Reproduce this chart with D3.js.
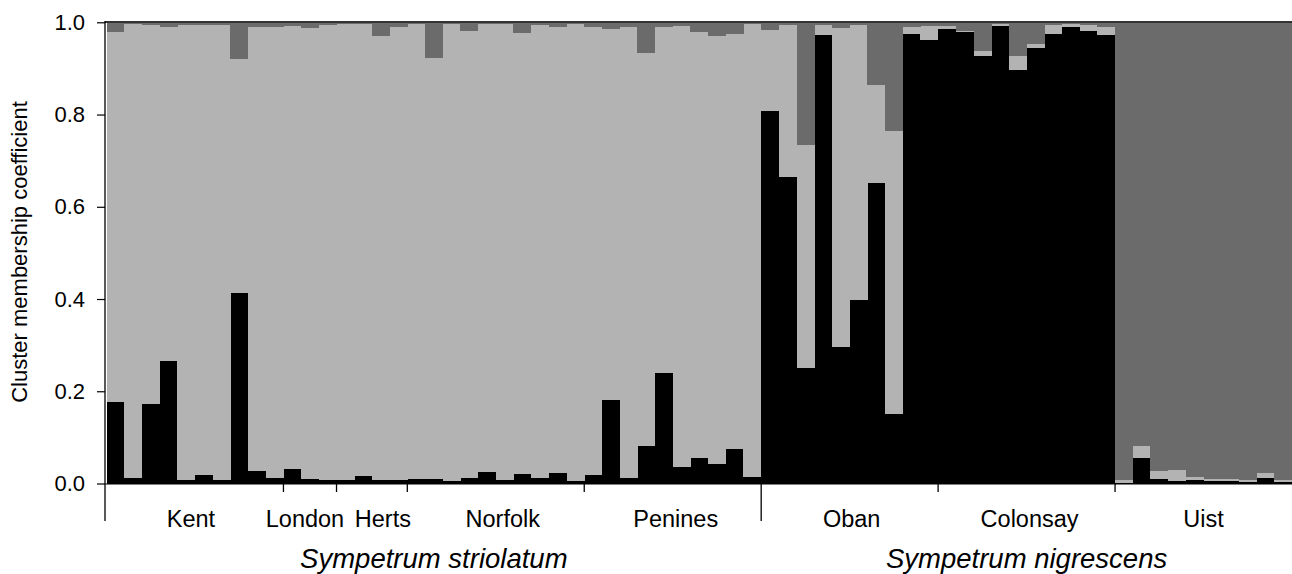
<!DOCTYPE html>
<html><head><meta charset="utf-8">
<script src="https://cdn.jsdelivr.net/npm/d3@7"></script>
<style>
body{margin:0;background:#fff;}
text{font-family:"Liberation Sans",Arial,sans-serif;fill:#000;}
</style></head>
<body><svg id="chart" width="1292" height="574"></svg>
<script>
// Cluster membership per individual (black = cluster 1, light grey = cluster 2, dark grey = cluster 3)
const cluster1 = [0.177,0.013,0.173,0.266,0.008,0.018,0.008,0.413,0.028,0.011,
  0.031,0.010,0.007,0.008,0.016,0.008,0.007,0.009,0.010,0.006,
  0.013,0.024,0.008,0.020,0.012,0.022,0.005,0.018,0.182,0.012,
  0.082,0.240,0.035,0.055,0.042,0.074,0.015,
  0.808,0.664,0.251,0.972,0.297,0.398,0.652,0.151,0.975,0.961,
  0.985,0.978,0.928,0.992,0.897,0.944,0.975,0.989,0.982,0.972,
  0.002,0.056,0.010,0.006,0.008,0.005,0.006,0.003,0.013,0.004];
const cluster2 = [0.801,0.983,0.822,0.723,0.987,0.977,0.987,0.507,0.962,0.979,
  0.961,0.978,0.988,0.988,0.981,0.962,0.983,0.987,0.912,0.990,
  0.969,0.972,0.988,0.956,0.983,0.967,0.991,0.972,0.803,0.978,
  0.851,0.750,0.958,0.923,0.928,0.901,0.981,
  0.175,0.331,0.483,0.023,0.690,0.597,0.211,0.613,0.014,0.031,
  0.006,0.004,0.009,0.004,0.029,0.009,0.019,0.007,0.013,0.017,
  0.005,0.025,0.017,0.024,0.007,0.004,0.004,0.004,0.009,0.004];
const cluster3 = [0.022,0.004,0.005,0.011,0.005,0.005,0.005,0.080,0.010,0.010,
  0.008,0.012,0.005,0.004,0.003,0.030,0.010,0.004,0.078,0.004,
  0.018,0.004,0.004,0.024,0.005,0.011,0.004,0.010,0.015,0.010,
  0.067,0.010,0.007,0.022,0.030,0.025,0.004,
  0.017,0.005,0.266,0.005,0.013,0.005,0.137,0.236,0.011,0.008,
  0.009,0.018,0.063,0.004,0.074,0.047,0.006,0.004,0.005,0.011,
  0.993,0.919,0.973,0.970,0.985,0.991,0.990,0.993,0.978,0.992];
const populations = ["Kent","London","Herts","Norfolk","Penines","Oban","Colonsay","Uist"];
const popSizes = [10,3,4,10,10,10,10,10];
const species = ["Sympetrum striolatum","Sympetrum nigrescens"];
const speciesSizes = [37,30];
const yTicks = [0,0.2,0.4,0.6,0.8,1.0];
const clusterColors = ["#000000","#b3b3b3","#6b6b6b"];

(function draw() {
const svg = d3.select("#chart");
const n = cluster1.length;
const pLeft = 106.5, pRight = 1292, pTop = 22.3, pBottom = 483.5;
const labelNudge = [-4, -5, 11, 7, 3, 2, 3, 0];
const x = d3.scaleBand().domain(d3.range(n)).range([pLeft, pRight]).padding(0);
const y = d3.scaleLinear().domain([0,1]).range([pBottom, pTop]);

const rows = d3.range(n).map(i => ({i, c1: cluster1[i], c2: cluster2[i], c3: cluster3[i]}));
const layers = d3.stack().keys(["c1","c2","c3"])(rows);

svg.append("g").selectAll("g").data(layers).join("g")
  .attr("fill", (d,k) => clusterColors[k])
  .selectAll("rect").data(d => d).join("rect")
  .attr("x", d => x(d.data.i))
  .attr("width", x.bandwidth() + 0.3)
  .attr("y", d => y(Math.min(1, d[1])))
  .attr("height", d => Math.max(0, y(d[0]) - y(Math.min(1, d[1]))))
  .attr("shape-rendering", "crispEdges");

// top frame
svg.append("line").attr("x1", 105).attr("x2", pRight).attr("y1", 22).attr("y2", 22)
  .attr("stroke", "#333").attr("stroke-width", 2);

// y axis
const yAxis = d3.axisLeft(y).tickValues(yTicks).tickFormat(d3.format(".1f")).tickSize(8).tickPadding(12);
const gy = svg.append("g").attr("transform", "translate(105,0)").call(yAxis);
gy.select(".domain").remove();
gy.selectAll(".tick line").attr("stroke", "#000").attr("stroke-width", 1.2);
gy.selectAll(".tick text").style("font-size", "22px").style("font-family", "Liberation Sans, Arial, sans-serif").attr("fill", "#000");
svg.append("line").attr("x1", 105).attr("x2", 105).attr("y1", 21).attr("y2", 521)
  .attr("stroke", "#000").attr("stroke-width", 1.3);

// x baseline
svg.append("line").attr("x1", 105).attr("x2", pRight).attr("y1", pBottom + 0.5).attr("y2", pBottom + 0.5)
  .attr("stroke", "#000").attr("stroke-width", 1.2);

// population boundaries and labels
let acc = 0;
const popBounds = popSizes.map(s => { const a = acc; acc += s; return [a, acc]; });
const xEdge = i => i < n ? x(i) : pRight;
const speciesEnds = new Set(); { let s = 0; speciesSizes.forEach(v => { s += v; speciesEnds.add(s); }); }
popBounds.forEach(([a,b], k) => {
  if (b < n) {
    const long = speciesEnds.has(b);
    svg.append("line").attr("x1", xEdge(b)).attr("x2", xEdge(b))
      .attr("y1", pBottom).attr("y2", long ? 521 : 492)
      .attr("stroke", "#000").attr("stroke-width", 1.3);
  }
  svg.append("text").attr("x", (xEdge(a) + xEdge(b)) / 2 + labelNudge[k]).attr("y", 527)
    .attr("text-anchor", "middle").style("font-size", "23.5px").text(populations[k]);
});

// species labels
acc = 0;
speciesSizes.forEach((s, k) => {
  const a = acc; acc += s;
  svg.append("text").attr("x", (xEdge(a) + xEdge(acc)) / 2).attr("y", 568)
    .attr("text-anchor", "middle").style("font-size", "27.5px").style("font-style", "italic")
    .text(species[k]);
});

// y title
svg.append("text").attr("transform", "translate(27,252) rotate(-90)")
  .attr("text-anchor", "middle").style("font-size", "22px").text("Cluster membership coefficient");
})();
</script>
</body></html>
